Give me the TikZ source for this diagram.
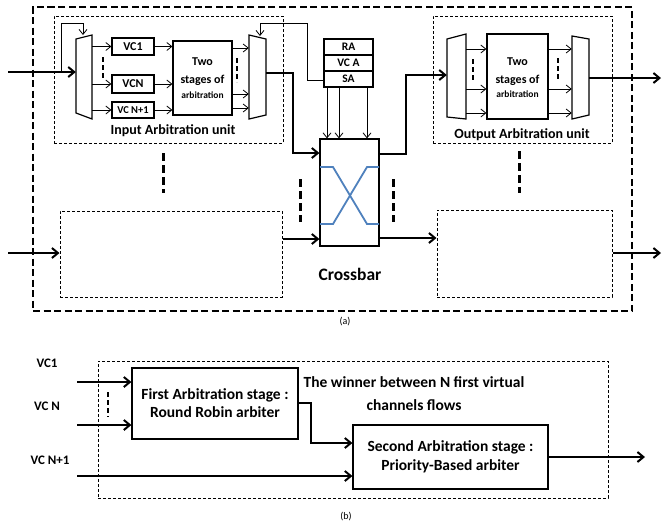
\documentclass[tikz,border=0pt]{standalone}
\usepackage{fontspec}
\setmainfont{Carlito}
\usetikzlibrary{arrows.meta,calc}
\begin{document}
\begin{tikzpicture}[x=1pt,y=-1pt,
  frame/.style={draw, line width=2.3pt, dash pattern=on 7pt off 3.5pt, inner sep=0},
  sub/.style={draw, line width=1pt, dash pattern=on 3pt off 2pt, inner sep=0},
  blk/.style={draw, line width=1.2pt, inner sep=0, fill=white},
  thk/.style={line width=2pt, -{Straight Barb[length=6pt,width=10pt]}},
  thn/.style={line width=0.8pt, -{Straight Barb[length=5pt,width=8pt]}},
  mk/.style={line width=3pt, dash pattern=on 8pt off 4pt},
  smk/.style={line width=2.5pt, dash pattern=on 5pt off 3pt},
  mux/.style={line width=1.2pt, fill=white},
  ghost/.style={inner sep=0, draw=none},
  txt/.style={inner sep=0, font=\bfseries\fontsize{#1}{#1}\selectfont},
  captxt/.style={inner sep=0, font=\fontsize{10}{11}\selectfont},
  xblue/.style={line width=1.8pt, draw={rgb,255:red,79;green,129;blue,189}}
]
\useasboundingbox (0,0) rectangle (662,523);

% ---------- (a) frames ----------
\node[frame, minimum width=599pt, minimum height=304pt] (router) at (332.5,159) {};
\node[sub, minimum width=229pt, minimum height=127pt] (inunit) at (168.5,79.5) {};
\node[sub, minimum width=179pt, minimum height=127pt] (outunit) at (522.5,79.5) {};
\node[sub, minimum width=222pt, minimum height=86pt] (inunit2) at (171,254) {};
\node[sub, minimum width=175pt, minimum height=87pt] (outunit2) at (524.5,253.5) {};

% ---------- input arbitration unit ----------
\draw[mux] (76,39) -- (92,35) -- (92,119) -- (76,113) -- cycle;
\node[ghost, minimum width=16pt, minimum height=84pt] (muxA) at (84,77) {};
\draw[mux] (249,35) -- (266,39) -- (266,115) -- (249,119) -- cycle;
\node[ghost, minimum width=17pt, minimum height=84pt] (muxB) at (257.5,77) {};

\node[blk, minimum width=42pt, minimum height=17pt, txt=12] (vc1) at (133,46.5) {VC1};
\node[blk, minimum width=42pt, minimum height=18pt, txt=12] (vcn) at (133,84) {VCN};
\node[blk, minimum width=42pt, minimum height=16pt, txt=10.5] (vcn1) at (133,110) {VC N+1};
\node[blk, minimum width=59pt, minimum height=74pt] (twoA) at (202.5,78) {};
\node[txt=12] (twoA1) at (202.5,62) {Two};
\node[txt=12] (twoA2) at (202.5,80) {stages of};
\node[txt=9.5] (twoA3) at (202.5,95) {arbitration};

\foreach \n in {vc1,vcn,vcn1}{
  \draw[thn] (muxA.east |- \n) -- (\n.west);
  \draw[thn] (\n.east) -- (twoA.west |- \n);
}
\foreach \y in {48,94,108}{
  \draw[thn] (twoA.east |- 0,\y) -- (muxB.west |- 0,\y);
}
\draw[smk] (103,57) -- (103,78);
\draw[smk] (237,58) -- (237,82);
\node[txt=14] (inlabel) at (173,131) {Input Arbitration unit};

% ---------- output arbitration unit ----------
\draw[mux] (447,39) -- (466,34) -- (466,119) -- (447,117) -- cycle;
\node[ghost, minimum width=19pt, minimum height=85pt] (muxC) at (456.5,76.5) {};
\draw[mux] (572,36) -- (589,39) -- (589,115) -- (572,119) -- cycle;
\node[ghost, minimum width=17pt, minimum height=83pt] (muxD) at (580.5,77.5) {};
\node[blk, minimum width=61pt, minimum height=85pt] (twoB) at (517.5,76.5) {};
\node[txt=12] (twoB1) at (517.5,62) {Two};
\node[txt=12] (twoB2) at (517.5,80) {stages of};
\node[txt=9.5] (twoB3) at (517.5,94) {arbitration};
\foreach \y in {49,89,113}{
  \draw[thn] (muxC.east |- 0,\y) -- (twoB.west |- 0,\y);
  \draw[thn] (twoB.east |- 0,\y) -- (muxD.west |- 0,\y);
}
\draw[smk] (473,59) -- (473,82);
\draw[smk] (558,58) -- (558,80);
\node[txt=14] (outlabel) at (522,135) {Output Arbitration unit};

% ---------- allocators and crossbar ----------
\node[blk, minimum width=49pt, minimum height=16pt, txt=11.5] (ra) at (348.5,47) {RA};
\node[blk, minimum width=49pt, minimum height=16pt, txt=11.5] (vca) at (348.5,63) {VC A};
\node[blk, minimum width=49pt, minimum height=16pt, txt=11.5] (sa) at (348.5,79) {SA};
\node[blk, minimum width=59pt, minimum height=107pt] (xbar) at (349.5,192.5) {};
\draw[xblue] (320,167) -- (333,167) -- (367,224) -- (379,224);
\draw[xblue] (320,224) -- (333,224) -- (367,167) -- (379,167);
\node[txt=17.5] (xlabel) at (350,274) {Crossbar};
\node[captxt] (capa) at (345,322) {(a)};

\foreach \x in {327,339,367}{
  \draw[thn] (sa.south -| \x,0) -- (xbar.north -| \x,0);
}

% feedback lines
\coordinate (fbA) at (61,72);
\coordinate (muxAtop) at (83,35);
\coordinate (muxBtop) at (260,36);
\draw[thn] (fbA) -- (61,23) -- (83,23) -- (muxAtop);
\draw[thn] (sa.west |- 0,80) -- (307,80) -- (307,23) -- (260,23) -- (muxBtop);

% thick data paths
\coordinate (in1) at (8,72);
\coordinate (in2) at (8,253);
\coordinate (out1) at (661,78);
\coordinate (out2) at (661,253);
\draw[thk] (in1) -- (muxA.west |- in1);
\draw[thk] (muxB.east |- 0,73) -- (293,73) -- (293,153) -- (xbar.west |- 0,153);
\draw[thk] (xbar.east |- 0,154) -- (406,154) -- (406,75) -- (muxC.west |- 0,75);
\draw[thk] (muxD.east |- out1) -- (out1);
\draw[thk] (in2) -- (inunit2.west |- in2);
\draw[thk] (inunit2.east |- 0,239) -- (xbar.west |- 0,239);
\draw[thk] (xbar.east |- 0,238) -- (outunit2.west |- 0,238);
\draw[thk] (outunit2.east |- out2) -- (out2);

% ellipsis markers
\draw[mk] (163,153) -- (163,193);
\draw[mk] (519,151) -- (519,193);
\draw[mk] (300,179) -- (300,222);
\draw[mk] (393,179) -- (393,222);

% ---------- (b) ----------
\node[sub, minimum width=510pt, minimum height=137pt] (bframe) at (353,429.5) {};
\node[blk, minimum width=166pt, minimum height=71pt, align=center,
      font=\bfseries\fontsize{15.5}{18}\selectfont] (first) at (215,403.5)
      {First Arbitration stage :\\Round Robin arbiter};
\node[blk, minimum width=195pt, minimum height=64pt, align=center,
      font=\bfseries\fontsize{15.5}{19}\selectfont] (second) at (450.5,457)
      {Second Arbitration stage :\\Priority-Based arbiter};
\node[inner sep=0, align=center, font=\bfseries\fontsize{15.5}{23}\selectfont] (winner) at (414,393.5)
      {The winner between N first virtual\\channels flows};
\node[txt=13] (lvc1) at (47,363) {VC1};
\node[txt=13] (lvcn) at (47,406) {VC N};
\node[txt=13] (lvcn1) at (50,460) {VC N+1};
\coordinate (b1) at (77,382);
\coordinate (b2) at (77,425);
\coordinate (b3) at (77,476);
\coordinate (bout) at (645,457);
\draw[thk] (b1) -- (first.west |- b1);
\draw[thk] (b2) -- (first.west |- b2);
\draw[thk] (first.east |- 0,403) -- (311,403) -- (311,443) -- (second.west |- 0,443);
\draw[thk] (b3) -- (second.west |- b3);
\draw[thk] (second.east) -- (bout);
\draw[smk] (108,392) -- (108,417);
\node[captxt] (capb) at (346,517) {(b)};
\end{tikzpicture}
\end{document}
